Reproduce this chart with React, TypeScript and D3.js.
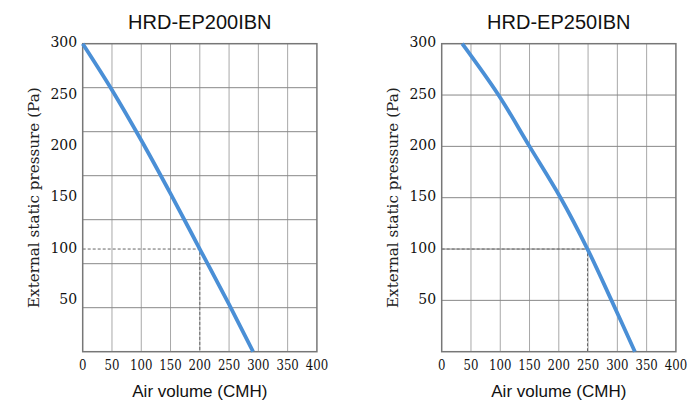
import React from "react";
import * as d3 from "d3";

const titles = ["HRD-EP200IBN", "HRD-EP250IBN"];
const xTicks = [0, 50, 100, 150, 200, 250, 300, 350, 400];
const yTicks = [50, 100, 150, 200, 250, 300];
// horizontal grid divisions per chart (the left chart's grid differs from its labels)
const gridDivisions = [7, 6];

const airflowA = [0, 50, 100, 150, 200, 250, 291];
const pressureA = [300, 255, 206, 154, 100, 46, 0];
const airflowB = [35, 97, 150, 203, 249, 290, 330];
const pressureB = [300, 250, 200, 150, 100, 50, 0];
const ratedPoints = [
  { q: 200, p: 100 },
  { q: 249, p: 100 },
];

const W = 697;
const H = 408;
const plotLefts = [82.7, 441.7];
const plotW = 234.2;
const plotTop = 43.7;
const plotBottom = 351.7;

function Panel({ idx, xs, ys }: { idx: number; xs: number[]; ys: number[] }) {
  const left = plotLefts[idx];
  const x = d3.scaleLinear().domain([0, 400]).range([left, left + plotW]);
  const y = d3.scaleLinear().domain([0, 300]).range([plotBottom, plotTop]);
  const nDiv = gridDivisions[idx];
  const hGrid = d3.range(1, nDiv).map((k) => (k * 300) / nDiv);
  const pts: [number, number][] = xs.map((v, i) => [v, ys[i]]);
  const line = d3
    .line<[number, number]>()
    .x((d) => x(d[0]))
    .y((d) => y(d[1]))
    .curve(d3.curveCatmullRom.alpha(0.5));
  const rp = ratedPoints[idx];
  const cx = left + plotW / 2;
  const serif = "'DejaVu Serif', serif";
  const sans = "'Liberation Sans', Arial, sans-serif";
  return (
    <g>
      <text x={cx} y={28.5} textAnchor="middle" fontFamily={sans} fontSize={20} fill="#111">
        {titles[idx]}
      </text>
      {xTicks.slice(1, -1).map((t) => (
        <line key={"vx" + t} x1={x(t)} x2={x(t)} y1={plotTop} y2={plotBottom} stroke="#a8a8a8" strokeWidth={1} />
      ))}
      {hGrid.map((t) => (
        <line key={"hy" + t} x1={left} x2={left + plotW} y1={y(t)} y2={y(t)} stroke="#888" strokeWidth={1} />
      ))}
      <path
        d={`M${x(0)},${y(rp.p)}H${x(rp.q)}V${y(0)}`}
        fill="none"
        stroke="#666"
        strokeWidth={1}
        strokeDasharray="3,2"
      />
      <rect x={left} y={plotTop} width={plotW} height={plotBottom - plotTop} fill="none" stroke="#777" strokeWidth={1.5} />
      <path d={line(pts) || ""} fill="none" stroke="#4a8fd6" strokeWidth={3.8} />
      {yTicks.map((t) => (
        <text
          key={"yt" + t}
          x={left - 5.5}
          y={y(t) + 3.5}
          textAnchor="end"
          fontFamily={serif}
          fontSize={14}
          fill="#111"
        >
          {t}
        </text>
      ))}
      {xTicks.map((t) => (
        <text
          key={"xt" + t}
          transform={`translate(${x(t)},${370}) scale(0.84,1)`}
          textAnchor="middle"
          fontFamily={serif}
          fontSize={14}
          fill="#111"
        >
          {t}
        </text>
      ))}
      <text x={cx} y={396.5} textAnchor="middle" fontFamily={sans} fontSize={17} fill="#111">
        Air volume (CMH)
      </text>
      <text
        transform={`translate(${left - 49},${(plotTop + plotBottom) / 2}) rotate(-90)`}
        textAnchor="middle"
        dominantBaseline="central"
        fontFamily={serif}
        fontSize={15.2}
        fill="#222"
      >
        External static pressure (Pa)
      </text>
    </g>
  );
}

export default function App() {
  return (
    <svg
      width={W}
      height={H}
      viewBox={`0 0 ${W} ${H}`}
      style={{ position: "absolute", left: 0, top: 0, background: "#fff" }}
    >
      <rect width={W} height={H} fill="#fff" />
      <Panel idx={0} xs={airflowA} ys={pressureA} />
      <Panel idx={1} xs={airflowB} ys={pressureB} />
    </svg>
  );
}
